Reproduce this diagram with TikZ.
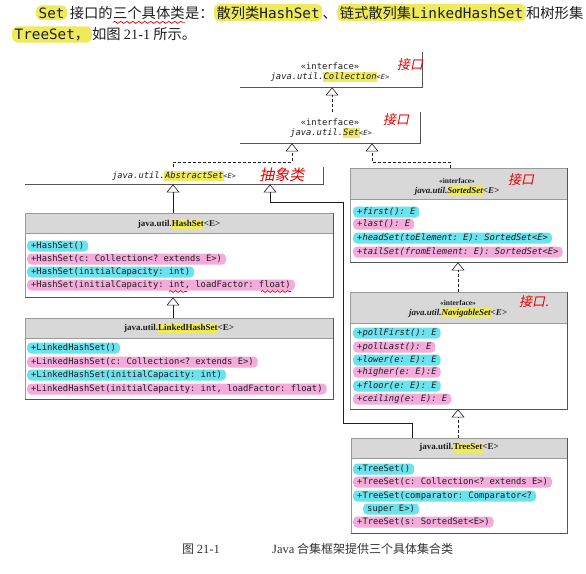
\documentclass[tikz,border=0pt]{standalone}
\usepackage{fontspec}
\setmainfont{Liberation Serif}
\setmonofont{DejaVu Sans Mono}
\newfontfamily\cjk{Noto Sans CJK SC}
\usetikzlibrary{arrows.meta,decorations.pathmorphing}

\definecolor{ink}{HTML}{1E1E1E}
\definecolor{hcyan}{HTML}{6BE3EE}
\definecolor{hpink}{HTML}{F4AADB}
\definecolor{hyel}{HTML}{EEEA5C}
\definecolor{hdrgray}{HTML}{D8D8D8}
\definecolor{rimgray}{HTML}{9A9A9A}
\definecolor{shadegray}{HTML}{555555}
\definecolor{hred}{HTML}{E80000}
\definecolor{capgray}{HTML}{333333}

% fonts used in the class boxes
\newcommand\rowfont{\ttfamily\fontsize{8.8}{10}\selectfont}
\newcommand\rowfontit{\ttfamily\itshape\fontsize{8.8}{10}\selectfont}
\newcommand\hdrfont{\rmfamily\bfseries\fontsize{9}{11}\selectfont}
\newcommand\hdrfontit{\rmfamily\bfseries\itshape\fontsize{9}{11}\selectfont}
\newcommand\stereofont{\rmfamily\bfseries\fontsize{7.5}{9}\selectfont}
\newcommand\ifacefont{\ttfamily\fontsize{8.8}{10}\selectfont}
\newcommand\smallE{{\fontsize{7}{8}\selectfont<E>}}
\newcommand\paracjk{\cjk\fontsize{14.3}{16}\selectfont}
\newcommand\capfont{\cjk\fontsize{12}{14}\selectfont}
% yellow marker behind a class name
\newcommand\hly[1]{{\setlength{\fboxsep}{0.6pt}\hspace{-0.6pt}\colorbox{hyel}{\vphantom{Ag}#1}\hspace{-0.6pt}}}

\tikzset{
  row/.style={anchor=west, rounded corners=4pt, inner xsep=4pt, inner ysep=1pt,
              text height=7pt, text depth=2pt, font=\rowfont, text=ink},
  cy/.style={row, fill=hcyan},
  pk/.style={row, fill=hpink},
  cyi/.style={cy, font=\rowfontit},
  pki/.style={pk, font=\rowfontit},
  boxbg/.style={anchor=north west, inner sep=0pt, fill=white, draw=none},
  rimline/.style={draw=rimgray, line width=0.5pt},
  shadeline/.style={draw=shadegray, line width=0.8pt},
  hdrtext/.style={font=\hdrfont, text=ink, inner sep=0pt},
  hdrtextit/.style={font=\hdrfontit, text=ink, inner sep=0pt},
  stereo/.style={font=\stereofont, text=ink, inner sep=0pt},
  iface/.style={font=\ifacefont, text=ink, inner sep=0pt},
  ifaceit/.style={font=\ifacefont\itshape, text=ink, inner sep=0pt},
  gen/.style={line width=0.6pt, draw=ink, -{Triangle[open, width=13pt, length=8pt]}},
  real/.style={gen, dash pattern=on 3pt off 2pt},
  para/.style={anchor=base west, inner sep=0pt, font=\paracjk, text=ink},
  yelmark/.style={para, fill=hyel, rounded corners=5pt, inner xsep=2.5pt, inner ysep=2pt},
  hand/.style={text=hred, font=\cjk\fontsize{13}{14}\selectfont, xslant=0.2, inner sep=0pt},
  wave/.style={draw=hred, line width=0.7pt, decorate,
               decoration={snake, amplitude=1pt, segment length=6pt}},
}

\begin{document}
\begin{tikzpicture}[x=1pt,y=-1pt]
\useasboundingbox (0,0) rectangle (586,573);
\fill[white] (0,0) rectangle (586,573);

% ---------- paragraph above the figure ----------
\node[yelmark] (p1) at (36,18) {\ttfamily Set};
\node[para] (p2) at (p1.base east) {\,接口的};
\node[para] (p3) at (p2.base east) {三个具体类};
\node[para] (p4) at (p3.base east) {是：};
\node[yelmark] (p5) at (p4.base east) {散列类{\ttfamily HashSet}};
\node[para] (p6) at (p5.base east) {、};
\node[yelmark] (p7) at (p6.base east) {链式散列集{\ttfamily LinkedHashSet}};
\node[para] (p8) at (p7.base east) {和树形集};
\draw[wave] ([yshift=-3pt]p3.south west) -- ([yshift=-3pt]p3.south east);
\node[yelmark] (q1) at (12,39) {{\ttfamily TreeSet}，};
\node[para] (q2) at (q1.base east) {如图 {\rmfamily 21-1} 所示。};

% ---------- interface Collection ----------
\node[boxbg, minimum width=182pt, minimum height=35pt] (coll) at (240,52) {};
\draw[shadeline] (coll.north east) -- (coll.south east) -- (coll.south west);
\node[iface] (collst) at (330,66) {«interface»};
\node[ifaceit] (colln) at (330,77) {java.util.\hly{Collection}\smallE};
\node[hand] (collnote) at (411,65) {接口};

% ---------- interface Set ----------
\node[boxbg, minimum width=180pt, minimum height=31pt] (set) at (240,112) {};
\draw[shadeline] (set.north east) -- (set.south east) -- (set.south west);
\node[iface] (setst) at (330,122) {«interface»};
\node[ifaceit] (setn) at (331,133) {java.util.\hly{Set}\smallE};
\node[hand] (setnote) at (397,120) {接口};

% ---------- abstract class AbstractSet ----------
\node[boxbg, minimum width=298pt, minimum height=17pt] (abs) at (25,167) {};
\draw[shadeline] (abs.north east) -- (abs.south east) -- (abs.south west);
\node[ifaceit] (absn) at (174,176) {java.util.\hly{AbstractSet}\smallE};
\node[hand, font=\cjk\fontsize{15}{16}\selectfont] (absnote) at (283,175) {抽象类};

% ---------- class HashSet ----------
\node[boxbg, minimum width=308pt, minimum height=84pt] (hs) at (25,213) {};
\fill[hdrgray] (hs.north west) rectangle ([yshift=-20pt]hs.north east);
\draw[rimline] ([yshift=-20pt]hs.north west) -- ([yshift=-20pt]hs.north east);
\draw[rimline] (hs.north west) rectangle (hs.south east);
\draw[shadeline] (hs.north east) -- (hs.south east) -- (hs.south west);
\node[hdrtext] (hsn) at (179,224) {java.util.\hly{HashSet}<E>};
\node[cy] (hs1) at (27,246) {+HashSet()};
\node[pk] (hs2) at (27,259) {+HashSet(c: Collection<? extends E>)};
\node[cy] (hs3) at (27,272) {+HashSet(initialCapacity: int)};
\node[pk] (hs4) at (27,285) {+HashSet(initialCapacity: int, loadFactor: float)};
\draw[wave, decoration={snake, amplitude=0.9pt, segment length=5pt}] (169,291.5) -- (187,291.5);
\draw[wave, decoration={snake, amplitude=0.9pt, segment length=5pt}] (261,291.5) -- (291,291.5);

% ---------- class LinkedHashSet ----------
\node[boxbg, minimum width=308pt, minimum height=81pt] (lhs) at (25,318) {};
\fill[hdrgray] (lhs.north west) rectangle ([yshift=-20pt]lhs.north east);
\draw[rimline] ([yshift=-20pt]lhs.north west) -- ([yshift=-20pt]lhs.north east);
\draw[rimline] (lhs.north west) rectangle (lhs.south east);
\draw[shadeline] (lhs.north east) -- (lhs.south east) -- (lhs.south west);
\node[hdrtext] (lhsn) at (179,328) {java.util.\hly{LinkedHashSet}<E>};
\node[cy] (lhs1) at (27,348) {+LinkedHashSet()};
\node[pk] (lhs2) at (27,362) {+LinkedHashSet(c: Collection<? extends E>)};
\node[cy] (lhs3) at (27,375) {+LinkedHashSet(initialCapacity: int)};
\node[pk] (lhs4) at (27,389) {+LinkedHashSet(initialCapacity: int, loadFactor: float)};

% ---------- interface SortedSet ----------
\node[boxbg, minimum width=217pt, minimum height=94pt] (ss) at (350,168) {};
\fill[hdrgray] (ss.north west) rectangle ([yshift=-31pt]ss.north east);
\draw[rimline] ([yshift=-31pt]ss.north west) -- ([yshift=-31pt]ss.north east);
\draw[rimline] (ss.north west) rectangle (ss.south east);
\draw[shadeline] (ss.north east) -- (ss.south east) -- (ss.south west);
\node[stereo] (ssst) at (457,181) {«interface»};
\node[hdrtextit] (ssn) at (457,191) {java.util.\hly{SortedSet}<E>};
\node[hand] (ssnote) at (522,180) {接口};
\node[cyi] (ss1) at (353,212) {+first(): E};
\node[pki] (ss2) at (353,224) {+last(): E};
\node[cyi] (ss3) at (353,238) {+headSet(toElement: E): SortedSet<E>};
\node[pki] (ss4) at (353,252) {+tailSet(fromElement: E): SortedSet<E>};

% ---------- interface NavigableSet ----------
\node[boxbg, minimum width=217pt, minimum height=117pt] (ns) at (350,292) {};
\fill[hdrgray] (ns.north west) rectangle ([yshift=-31pt]ns.north east);
\draw[rimline] ([yshift=-31pt]ns.north west) -- ([yshift=-31pt]ns.north east);
\draw[rimline] (ns.north west) rectangle (ns.south east);
\draw[shadeline] (ns.north east) -- (ns.south east) -- (ns.south west);
\node[stereo] (nsst) at (458,303) {«interface»};
\node[hdrtextit] (nsn) at (458,313) {java.util.\hly{NavigableSet}<E>};
\node[hand] (nsnote) at (535,302) {接口.};
\node[cyi] (ns1) at (353,333) {+pollFirst(): E};
\node[pki] (ns2) at (353,347) {+pollLast(): E};
\node[cyi] (ns3) at (353,360) {+lower(e: E): E};
\node[pki] (ns4) at (353,372) {+higher(e: E):E};
\node[cyi] (ns5) at (353,386) {+floor(e: E): E};
\node[pki] (ns6) at (353,399) {+ceiling(e: E): E};

% ---------- class TreeSet ----------
\node[boxbg, minimum width=216pt, minimum height=95pt] (ts) at (351,438) {};
\fill[hdrgray] (ts.north west) rectangle ([yshift=-20pt]ts.north east);
\draw[rimline] ([yshift=-20pt]ts.north west) -- ([yshift=-20pt]ts.north east);
\draw[rimline] (ts.north west) rectangle (ts.south east);
\draw[shadeline] (ts.north east) -- (ts.south east) -- (ts.south west);
\node[hdrtext] (tsn) at (459,448) {java.util.\hly{TreeSet}<E>};
\node[cy] (ts1) at (353,469) {+TreeSet()};
\node[pk] (ts2) at (353,482) {+TreeSet(c: Collection<? extends E>)};
\node[cy] (ts3) at (353,496) {+TreeSet(comparator: Comparator<?};
\node[cy] (ts3b) at (363,509) {super E>)};
\node[pk] (ts4) at (353,522) {+TreeSet(s: SortedSet<E>)};

% ---------- relations ----------
\coordinate (bend) at (343,202);
\draw[real] ([xshift=92pt]set.north west) -- ([xshift=92pt]coll.south west);
\draw[real] ([xshift=148pt]abs.north west) -- ++(0,-5) -| ([xshift=52pt]set.south west);
\draw[real] ([xshift=100pt]ss.north west) -- ++(0,-6) -| ([xshift=132pt]set.south west);
\draw[gen] ([xshift=148pt]hs.north west) -- ([xshift=148pt]abs.south west);
\draw[gen] ([xshift=148pt]lhs.north west) -- ([xshift=148pt]hs.south west);
\draw[real] ([xshift=108pt]ns.north west) -- ([xshift=108pt]ss.south west);
\draw[real] ([xshift=107pt]ts.north west) -- ([xshift=108pt]ns.south west);
\draw[gen] ([xshift=61pt]ts.north west) -- ++(0,-15) -| (bend) -| ([xshift=245pt]abs.south west);

% ---------- caption ----------
\node[anchor=base west, inner sep=0pt, font=\capfont, text=capgray] (cap1) at (182,553) {图 {\rmfamily\fontsize{12.5}{14}\selectfont 21-1}};
\node[anchor=base west, inner sep=0pt, font=\capfont, text=capgray] (cap2) at (272,553) {{\rmfamily\fontsize{12.5}{14}\selectfont Java} 合集框架提供三个具体集合类};
\end{tikzpicture}
\end{document}
